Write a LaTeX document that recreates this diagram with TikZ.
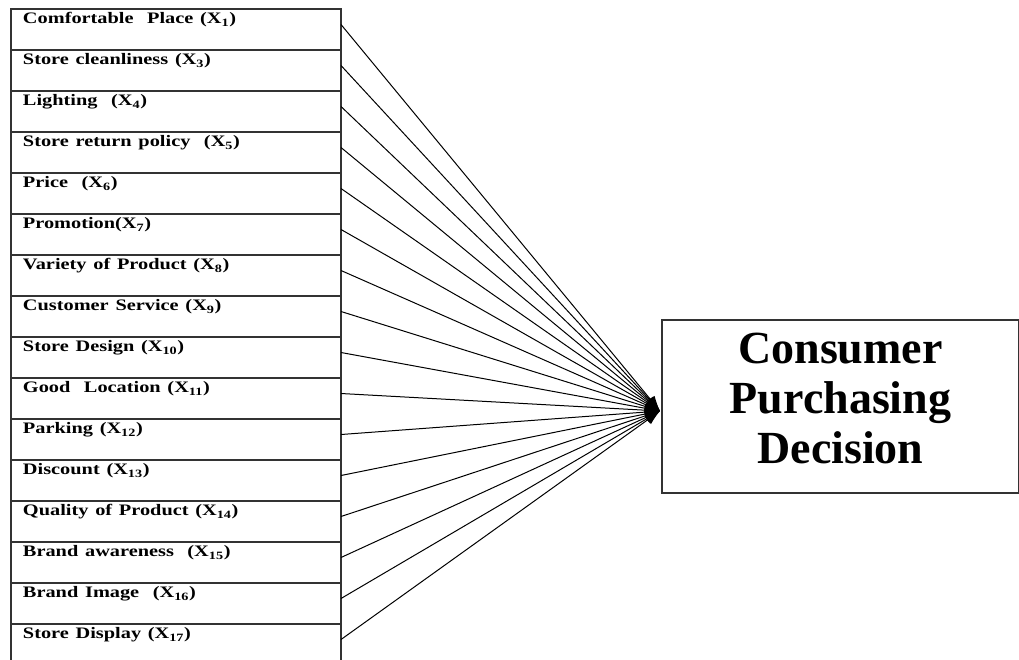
\documentclass[tikz,border=0pt]{standalone}
\usepackage{fontspec}
\setmainfont{Liberation Serif}
\usepackage{graphicx}
\usetikzlibrary{arrows.meta,calc}
\newcommand{\hs}[1]{\scalebox{1.27}[1]{#1}}
\tikzset{
  rowbox/.style={draw=black!80, line width=1.1pt, anchor=north west,
    inner xsep=12pt, inner ysep=0pt, outer sep=0pt, text width=306pt,
    align=left, text height=14.5pt, text depth=26.5pt,
    font=\fontsize{16}{18}\selectfont\bfseries},
  target/.style={draw=black!80, line width=1.1pt, inner sep=0pt, outer sep=0pt,
    minimum width=357pt, minimum height=173pt, align=center,
    font=\fontsize{46}{50}\selectfont\bfseries},
  conn/.style={line width=1pt, black, -{Latex[length=15pt,width=11pt]}}
}
\begin{document}
\begin{tikzpicture}[x=1pt,y=-1pt]
\useasboundingbox[fill=white] (0,0) rectangle (1019,659);
\node[rowbox] (r1)  at (11,9)   {\hs{Comfortable\ \ Place (X\textsubscript{1})}};
\node[rowbox] (r2)  at (11,50)  {\hs{Store cleanliness (X\textsubscript{3})}};
\node[rowbox] (r3)  at (11,91)  {\hs{Lighting\ \ (X\textsubscript{4})}};
\node[rowbox] (r4)  at (11,132) {\hs{Store return policy\ \ (X\textsubscript{5})}};
\node[rowbox] (r5)  at (11,173) {\hs{Price\ \ (X\textsubscript{6})}};
\node[rowbox] (r6)  at (11,214) {\hs{Promotion(X\textsubscript{7})}};
\node[rowbox] (r7)  at (11,255) {\hs{Variety of Product (X\textsubscript{8})}};
\node[rowbox] (r8)  at (11,296) {\hs{Customer Service (X\textsubscript{9})}};
\node[rowbox] (r9)  at (11,337) {\hs{Store Design (X\textsubscript{10})}};
\node[rowbox] (r10) at (11,378) {\hs{Good\ \ Location (X\textsubscript{11})}};
\node[rowbox] (r11) at (11,419) {\hs{Parking (X\textsubscript{12})}};
\node[rowbox] (r12) at (11,460) {\hs{Discount (X\textsubscript{13})}};
\node[rowbox] (r13) at (11,501) {\hs{Quality of Product (X\textsubscript{14})}};
\node[rowbox] (r14) at (11,542) {\hs{Brand awareness\ \ (X\textsubscript{15})}};
\node[rowbox] (r15) at (11,583) {\hs{Brand Image\ \ (X\textsubscript{16})}};
\node[rowbox] (r16) at (11,624) {\hs{Store Display (X\textsubscript{17})}};
\node[target] (cpd) at (840.5,406.5) {Consumer\\Purchasing\\Decision\rule[-16pt]{0pt}{16pt}};
\coordinate (tip) at ([xshift=-2pt,yshift=-4.5pt]cpd.west);
\foreach \i in {1,...,16} \draw[conn] ([yshift=5pt]r\i.east) -- (tip);
\end{tikzpicture}
\end{document}
